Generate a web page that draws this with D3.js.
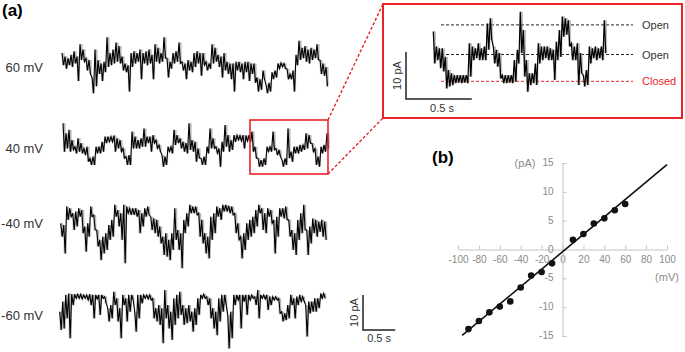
<!DOCTYPE html>
<html>
<head>
<meta charset="utf-8">
<script src="https://cdn.jsdelivr.net/npm/d3@7"></script>
<style>
  body { margin: 0; background: #fff; }
  svg { display: block; font-family: "Liberation Sans", Arial, sans-serif; }
</style>
</head>
<body>
<div id="chart"></div>
<script>
// ---- single channel recordings, [max, min] current (pA) per ~47 ms bin ----
const trace60 = [[4,0.5],[3,-0.5],[2.5,0.5],[3.5,0],[4.5,1],[3,-4],[6.5,2],[5,1.5],[2.5,-1],[2,-2],
  [-3,-7.5],[5,-5.5],[2,-2],[1,-4],[1.5,-1.5],[8.5,0],[4,0.5],[5,1],[7,1.5],[6,1],
  [3,-1],[1,-1.5],[0.5,-7],[4,0],[4.5,1],[4,1.5],[5,-3.5],[4,1],[4.5,0.5],[5,1],
  [3.5,-3.5],[6.5,1.5],[5.5,1],[4,1.5],[8.5,2.5],[2.5,-3],[1.5,-0.5],[4,1],[4.5,1.5],[7,1],
  [1.5,-1],[1,-3.5],[2,-1],[1.5,-1.5],[4,0],[4.5,1],[4,-2.5],[4,0.5],[1.5,-1],[1,-0.5],
  [6.5,1],[5.5,1.5],[3.5,0],[3,-3],[4,-1],[1.5,-2],[1,-3.5],[1,-7],[1.5,-1],[1.5,-1.5],
  [1,-3.5],[1.5,-1.5],[1.5,-4],[1,-2],[1,-4.5],[-3,-7],[-3.5,-6.5],[-1,-3.5],[-5,-7.5],[-4.5,-7],
  [-1.5,-3.5],[-1,-3],[1,-0.5],[1.2,0],[1,-0.5],[-0.5,-3.5],[-2,-3.5],[-1,-7],[3.5,0.5],[7.5,2],
  [5.5,2.5],[6,1.5],[5,1],[5.5,2],[5,2.5],[6.5,2],[2,-2],[1,-2.5],[0,-5.5]];

const trace40 = [[6.5,-1.6],[3.6,-0.7],[4.6,-1.6],[1.7,-1.1],[-0.2,-2.1],[2.2,-1.6],[0.8,-2.1],[-0.7,-2.6],[-0.2,-4.5],[-3.5,-5.4],
  [-3,-5.4],[-0.2,-2.1],[-0.2,-2.1],[1.2,-1.6],[2.7,0.8],[2.7,1.2],[2.7,1.2],[3,-1.6],[2.2,-0.7],[1.7,-1.6],
  [-0.7,-3.5],[-3,-5.4],[-2.6,-5.4],[4.1,-0.7],[2.7,-0.7],[1.7,-0.7],[2.2,-0.2],[5,-0.2],[2.7,0.8],[2.7,-1.6],
  [3.1,0.8],[1.7,-0.7],[0.3,-1.6],[-2.6,-5.9],[-3,-5.4],[-0.2,-1.6],[-0.2,-2.1],[4.6,0.3],[3.1,0.8],[2.2,-0.7],
  [1.2,-1.6],[0.8,-2.1],[6.5,-1.1],[1.7,-1.6],[1.2,-4.5],[-0.7,-3.5],[-3.5,-5.4],[-3,-5.4],[-0.2,-2.1],[5,-0.7],
  [2.2,-0.7],[-0.2,-2.1],[-0.7,-5.9],[1.2,-1.6],[6,-0.2],[3.1,-1.6],[1.7,-1.1],[3.1,1.2],[3.1,1.7],[3,1.4],
  [3.1,-0.7],[3,1.4],[3.1,1.2],[4.1,-1.6],[-0.2,-3.5],[-3.5,-5.9],[-4,-5.9],[-3.5,-5.4],[-0.2,-1.6],[-0.2,-1.6],
  [4.1,-1.1],[-0.7,-2.6],[-1.1,-3],[-4,-5.9],[-3.5,-5.4],[5,-3.5],[-1.6,-4.5],[-0.2,-2.1],[-0.2,-2.1],[0.3,-1.6],
  [0.3,-1.1],[3.6,-0.7],[3.1,0.8],[0.8,-1.6],[-0.7,-5.4],[-3,-5.9],[-0.2,-2.1],[0.3,-1.6],[3.6,-0.7]];

const traceN40 = [[3.6,-0.2],[3.1,-5],[8.4,4.6],[7.9,5.5],[6.5,1.7],[7,2.7],[7.9,5.5],[7.4,0.8],[2.7,-4.5],[3.6,-0.2],
  [8.4,5.5],[6,1.7],[1.7,-3],[-1.1,-6.9],[-0.2,-5],[0.8,-4],[3.1,-1.1],[4.6,-0.2],[8.9,5.5],[7.4,2.7],
  [6.5,-1.1],[8.9,-7.8],[8.4,6.5],[7.9,6],[7.9,6],[7.9,5.5],[7.4,0.8],[6.5,2.7],[7.9,5.5],[8.4,6],
  [5.5,1.7],[5,0.8],[4.6,-0.2],[2.7,-2.1],[-0.2,-5.4],[0.8,-5.9],[-1.1,-6.9],[0.8,-4],[7.9,-1.1],[1.7,-4],
  [0.8,-9.2],[4.6,0.8],[6.5,2.7],[8.9,6.5],[8.4,6.5],[8.4,6],[6.5,-0.2],[4.6,-2.1],[0.8,-5],[-0.2,-6.4],
  [5.5,-1.1],[6.5,0.8],[8.4,5.5],[7.9,4.6],[8.9,7],[8.9,7],[8.6,6.5],[8.4,6],[6.5,0.8],[3.6,-1.1],
  [-0.2,-6.4],[0.8,-4],[3.6,-1.1],[4.6,-0.2],[5.5,0.8],[7.4,2.7],[8.9,6.5],[7.9,1.7],[6.5,0.8],[7.9,5.5],
  [7.4,3.6],[4.6,-5],[5.5,-0.2],[7.9,5.5],[7.9,5],[8.4,4.6],[4.6,-0.2],[1.7,-4],[0.8,-5.4],[4.6,-1.1],
  [6.5,0.8],[8.9,1.7],[1.7,-5.4],[2.7,-2.1],[5,0.8],[4.6,-0.2],[4.1,1.2],[4.6,-0.2],[4.1,-1.1]];

const traceN60 = [[1.8,-3.4],[4.7,-3],[6.6,-0.1],[7,-5.8],[6.8,3.7],[6.8,5.6],[6.8,5.6],[6.8,5.4],[6.6,5.6],[6.6,5.1],
  [6.8,3.7],[6.6,-0.1],[6.6,5.4],[6.6,0.9],[6.6,5.6],[6.1,4.2],[2.8,-1],[3.7,-0.1],[7.5,3.7],[5.6,-1],
  [2.8,-5.8],[6.6,3.7],[5.6,-1],[6.6,1.8],[6.6,5.1],[1.8,-3.9],[6.6,-0.1],[6.6,4.2],[6.6,5.6],[6.6,5.4],
  [6.6,5.1],[5.6,-0.1],[2.8,-1],[3.7,-2],[2.8,-7.2],[8,-0.1],[3.7,-3],[1.8,-6.3],[5.6,-2],[6.6,-0.1],
  [7.5,0.9],[3.7,-2],[2.8,-1.5],[3.7,-1],[1.8,-3.9],[2.8,-2],[5.6,0.9],[6.6,5.6],[6.8,5.6],[6.1,3.7],
  [5.6,-0.1],[2.8,-3],[1.8,-4.9],[5.6,-1],[6.6,1.8],[6.6,3.7],[0.9,-8.7],[1.8,-5.8],[6.6,3.7],[6.6,5.1],
  [6.6,-3],[6.6,4.7],[6.6,0.9],[6.6,5.1],[6.6,5.6],[6.1,3.7],[8,-0.1],[6.6,5.6],[6.6,5.4],[6.6,2.3],
  [6.1,3.7],[6.1,5.1],[6.1,5.1],[5.6,1.3],[1.8,-1],[1.3,-0.6],[3.7,-0.1],[6.6,3.7],[5.6,-0.1],[6.1,3.7],
  [6.6,4.7],[6.1,4.7],[3.7,-5.3],[4.7,1.3],[4.7,1.8],[5.6,1.8],[5.6,2.8],[7,5.6],[7,5.6]];

// 40 mV segment, expanded (pA relative to closed level)
const insetTrace = [[10.6,3.8],[7.4,4.5],[7,2.8],[7,2.1],[5.2,-1.5],[2.4,-1.1],[1.7,-0.8],[1.3,-0.4],[1.3,-0.3],[1.3,-0.4],
  [1.3,-0.3],[1.3,-0.4],[8.1,1],[7.4,4.5],[7,4.9],[8.1,4.5],[7,4.5],[7.4,4.5],[12.3,6.7],[13.4,8.8],
  [7.4,3.8],[6.7,3.1],[6,0.6],[1.3,-0.4],[1.3,-0.4],[1.3,-0.3],[1.3,-0.4],[4.5,-0.1],[6.7,3.8],[14.8,6],
  [10.9,1],[4.5,-2.2],[1.7,-0.8],[1.7,-0.4],[3.8,-0.8],[8.1,3.8],[7.4,4.5],[7.4,4.9],[7.4,4.5],[7,4.5],
  [6.7,0.3],[8.4,4.5],[10.9,5.2],[13.8,9.5],[13.4,9.9],[13,7.4],[8.1,4.5],[7.4,4.5],[8.1,-0.8],[6,1.7],
  [1.3,-1.1],[2.4,-0.8],[7.4,3.8],[7,4.9],[7.4,4.5],[7,4.9],[7.4,4.5],[13,6]];
const insetLevels = [12, 5.7, 0];
const insetLevelNames = ["Open", "Open", "Closed"];

const voltages = ["60 mV", "40 mV", "-40 mV", "-60 mV"];
const traceSeconds = 4.1;
const insetSeconds = 1.3;

// ---- I-V relation ----
const ivVoltage = [-90, -80, -70, -60, -50, -40, -30, -20, -10, 10, 20, 30, 40, 50, 60];
const ivCurrent = [-13.8, -12.4, -10.9, -9.9, -9.0, -6.6, -4.5, -3.9, -2.4, 1.7, 2.7, 4.5, 5.4, 6.8, 7.9];
const fitLine = [[-96, -14.9], [100, 14.7]];
const xTicks = [-100, -80, -60, -40, -20, 0, 20, 40, 60, 80, 100];
const yTicks = [-15, -10, -5, 0, 5, 10, 15];

const W = 685, H = 352;
const red = "#e8232a";

const svg = d3.select("#chart").append("svg")
    .attr("width", W)
    .attr("height", H);
svg.append("rect").attr("width", W).attr("height", H).attr("fill", "#fff");

// zig-zag between max and min of every bin (min/max decimation)
function tracePath(cols, x, y, sub) {
    const pts = [];
    cols.forEach((c, i) => {
        for (let k = 0; k < sub; k++) {
            pts.push([x(i + k / sub), y(c[0])]);
            pts.push([x(i + (k + 0.5) / sub), y(c[1])]);
        }
    });
    return d3.line()(pts);
}

// gray envelope of the fast spikes, black trace on top
function drawTrace(cols, x, y, w) {
    svg.append("path")
        .attr("d", tracePath(cols, x, y, 3))
        .attr("fill", "none")
        .attr("stroke", "#8c8c8c")
        .attr("stroke-width", 0.4);
    svg.append("path")
        .attr("d", tracePath(cols, x, y, 1))
        .attr("fill", "none")
        .attr("stroke", "#000")
        .attr("stroke-width", w);
}

// ---------- panel (a) ----------
svg.append("text")
    .attr("x", 2).attr("y", 16)
    .style("font-size", "17px").style("font-weight", "bold")
    .text("(a)");

const mainLayout = [
    { data: trace60, x0: 62, yc: 67, ly: 72 },
    { data: trace40, x0: 63, yc: 146, ly: 153 },
    { data: traceN40, x0: 60.7, yc: 236, ly: 228 },
    { data: traceN60, x0: 59.7, yc: 318, ly: 320 }
];
const pxPerPA = 3.5;
const traceWidth = 264;
const tMain = d3.scaleLinear().domain([0, traceSeconds]).range([0, traceWidth]);

mainLayout.forEach((m, j) => {
    const n = m.data.length;
    const x = d3.scaleLinear().domain([0, n - 1]).range([m.x0, m.x0 + traceWidth]);
    const y = d3.scaleLinear().domain([-10, 10]).range([m.yc + 10 * pxPerPA, m.yc - 10 * pxPerPA]);
    drawTrace(m.data, x, y, 1.1);
    svg.append("text")
        .attr("x", 43).attr("y", m.ly)
        .attr("text-anchor", "end")
        .style("font-size", "13px").style("fill", "#333")
        .text(voltages[j]);
});

// scale bar
const sb = { x: 363, y: 330 };
svg.append("path")
    .attr("d", `M${sb.x},${sb.y - 10 * pxPerPA}V${sb.y}H${sb.x + tMain(0.5)}`)
    .attr("fill", "none").attr("stroke", "#222").attr("stroke-width", 1.5);
svg.append("text")
    .attr("transform", `translate(${sb.x - 5},${sb.y - 5 * pxPerPA}) rotate(-90)`)
    .attr("text-anchor", "middle")
    .style("font-size", "11px").style("fill", "#333")
    .text("10 pA");
svg.append("text")
    .attr("x", sb.x + tMain(0.5) / 2).attr("y", sb.y + 12)
    .attr("text-anchor", "middle")
    .style("font-size", "11px").style("fill", "#333")
    .text("0.5 s");

// zoom box and connectors
svg.append("rect")
    .attr("x", 250).attr("y", 120).attr("width", 78).attr("height", 54)
    .attr("fill", "none").attr("stroke", red).attr("stroke-width", 1.6);
svg.append("rect")
    .attr("x", 383).attr("y", 4).attr("width", 299).attr("height", 114)
    .attr("fill", "none").attr("stroke", red).attr("stroke-width", 2);
[[328, 120, 383, 4], [328, 174, 383, 118]].forEach(l => {
    svg.append("line")
        .attr("x1", l[0]).attr("y1", l[1]).attr("x2", l[2]).attr("y2", l[3])
        .attr("stroke", red).attr("stroke-width", 1.4)
        .attr("stroke-dasharray", "3,2");
});

// inset trace
const insetPxPerPA = 4.7;
const insetX = d3.scaleLinear().domain([0, insetTrace.length - 1]).range([433.3, 604.3]);
const insetY = d3.scaleLinear().domain([0, 10]).range([81.3, 81.3 - 10 * insetPxPerPA]);
const tInset = d3.scaleLinear().domain([0, insetSeconds]).range([0, 171]);

insetLevels.forEach((v, i) => {
    const isClosed = insetLevelNames[i] === "Closed";
    svg.append("line")
        .attr("x1", 441).attr("x2", 633)
        .attr("y1", insetY(v)).attr("y2", insetY(v))
        .attr("stroke", isClosed ? red : "#222")
        .attr("stroke-width", 1)
        .attr("stroke-dasharray", "3,2");
    svg.append("text")
        .attr("x", 642).attr("y", insetY(v) + 4)
        .style("font-size", "11px")
        .style("fill", isClosed ? red : "#333")
        .text(insetLevelNames[i]);
});

drawTrace(insetTrace, insetX, insetY, 1.2);

const isb = { x: 406, y: 99 };
svg.append("path")
    .attr("d", `M${isb.x},${isb.y - 10 * insetPxPerPA}V${isb.y}H${isb.x + tInset(0.5)}`)
    .attr("fill", "none").attr("stroke", "#222").attr("stroke-width", 1.5);
svg.append("text")
    .attr("transform", `translate(${isb.x - 5},${isb.y - 5 * insetPxPerPA}) rotate(-90)`)
    .attr("text-anchor", "middle")
    .style("font-size", "11px").style("fill", "#333")
    .text("10 pA");
svg.append("text")
    .attr("x", isb.x + 36).attr("y", isb.y + 13)
    .attr("text-anchor", "middle")
    .style("font-size", "11px").style("fill", "#333")
    .text("0.5 s");

// ---------- panel (b) ----------
svg.append("text")
    .attr("x", 432).attr("y", 163)
    .style("font-size", "17px").style("font-weight", "bold")
    .text("(b)");

const xIV = d3.scaleLinear().domain([-100, 100]).range([458, 667]);
const yIV = d3.scaleLinear().domain([-15, 15]).range([336, 163]);

const gx = svg.append("g")
    .attr("transform", `translate(0,${yIV(0)})`)
    .call(d3.axisBottom(xIV).tickValues(xTicks).tickFormat(d => String(d))
        .tickSizeInner(-4).tickSizeOuter(0).tickPadding(6));
const gy = svg.append("g")
    .attr("transform", `translate(${xIV(0)},0)`)
    .call(d3.axisLeft(yIV).tickValues(yTicks).tickFormat(d => String(d))
        .tickSizeInner(-4).tickSizeOuter(0).tickPadding(9));
[gx, gy].forEach(g => {
    g.select(".domain").attr("stroke", "#c4c4c4");
    g.selectAll(".tick line").attr("stroke", "#c4c4c4");
    g.selectAll(".tick text")
        .style("font-size", "10px")
        .style("font-family", "'Liberation Sans', Arial, sans-serif")
        .attr("fill", "#8a8a8a");
});
gy.selectAll(".tick text").attr("dy", "0.25em");

svg.append("text")
    .attr("x", 525).attr("y", 167)
    .attr("text-anchor", "middle")
    .style("font-size", "11px").style("fill", "#8a8a8a")
    .text("(pA)");
svg.append("text")
    .attr("x", 667).attr("y", 281)
    .attr("text-anchor", "middle")
    .style("font-size", "11px").style("fill", "#8a8a8a")
    .text("(mV)");

svg.append("path")
    .attr("d", d3.line().x(d => xIV(d[0])).y(d => yIV(d[1]))(fitLine))
    .attr("stroke", "#111").attr("stroke-width", 1.6).attr("fill", "none");

svg.selectAll("circle.iv")
    .data(ivVoltage)
    .enter()
    .append("circle")
    .attr("class", "iv")
    .attr("cx", d => xIV(d))
    .attr("cy", (d, i) => yIV(ivCurrent[i]))
    .attr("r", 3.3)
    .attr("fill", "#111");
</script>
</body>
</html>
